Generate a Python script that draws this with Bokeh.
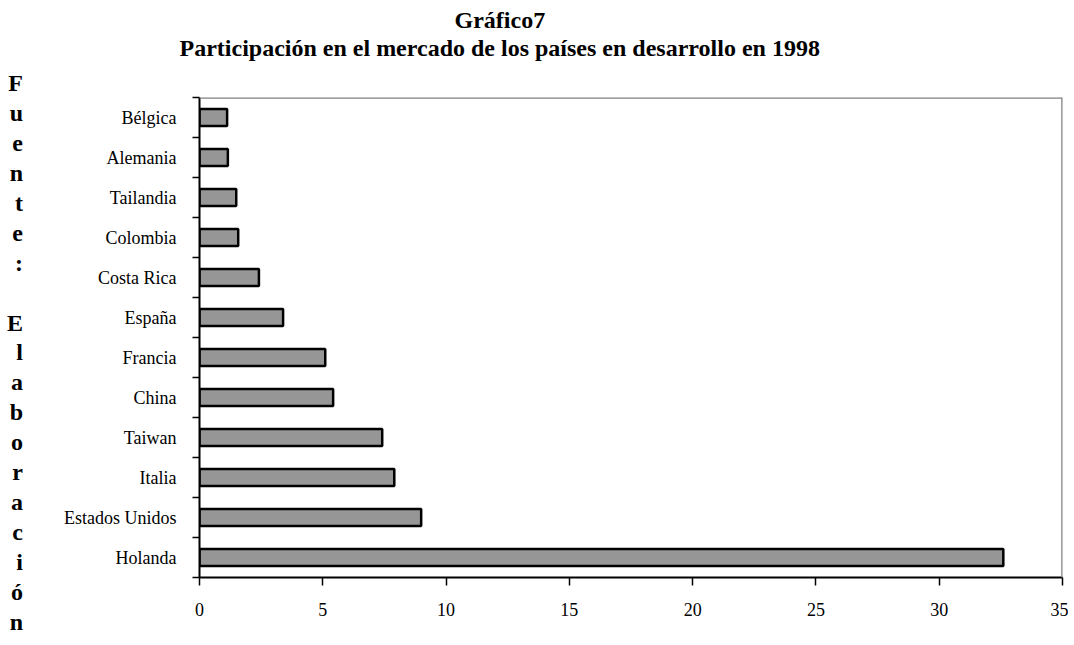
from bokeh.plotting import figure
from bokeh.models import Range1d, FixedTicker, Span, Title
from bokeh.embed import file_html
from bokeh.resources import INLINE

# ---- data (top to bottom as displayed) ----
categories = ["Bélgica", "Alemania", "Tailandia", "Colombia", "Costa Rica", "España",
              "Francia", "China", "Taiwan", "Italia", "Estados Unidos", "Holanda"]
values = [1.12, 1.15, 1.49, 1.57, 2.41, 3.39, 5.10, 5.42, 7.41, 7.90, 8.99, 32.6]
x_ticks = [0, 5, 10, 15, 20, 25, 30, 35]
title_1 = "Gráfico7"
title_2 = "Participación en el mercado de los países en desarrollo en 1998"
side_text = "Fuente: Elaboración"

SERIF = "Liberation Serif"
n = len(categories)
ypos = [n - 0.5 - i for i in range(n)]

p = figure(width=1068, height=637, x_range=Range1d(0, 35), y_range=Range1d(0, n),
           output_backend="svg", toolbar_location=None, title=None,
           min_border_left=199, min_border_right=6, min_border_top=97, min_border_bottom=60)
p.xgrid.visible = False
p.ygrid.visible = False
p.outline_line_color = None
p.background_fill_color = "white"
p.border_fill_color = "white"

p.hbar(y=ypos, left=0, right=values, height=0.42, fill_color="#969696",
       line_color="black", line_width=2.5)

# borders top/right (gray)
p.add_layout(Span(location=n, dimension="width", line_color="#808080", line_width=2.5))
p.add_layout(Span(location=35, dimension="height", line_color="#808080", line_width=2.5))

# x axis
xa = p.xaxis[0]
xa.ticker = FixedTicker(ticks=x_ticks, minor_ticks=[])
xa.axis_line_color = "black"
xa.axis_line_width = 2
xa.major_tick_out = 8
xa.major_tick_in = 0
xa.major_tick_line_color = "black"
xa.major_tick_line_width = 1.5
xa.minor_tick_out = 0
xa.minor_tick_in = 0
xa.major_label_text_font = SERIF
xa.major_label_text_font_size = "18px"
xa.major_label_text_color = "black"
xa.major_label_standoff = 17

# y axis: labels at centres, ticks at boundaries
ya = p.yaxis[0]
ya.ticker = FixedTicker(ticks=ypos, minor_ticks=list(range(0, n + 1)))
ya.major_label_overrides = {y: c for y, c in zip(ypos, categories)}
ya.axis_line_color = "black"
ya.axis_line_width = 2
ya.major_tick_out = 0
ya.major_tick_in = 0
ya.minor_tick_out = 7
ya.minor_tick_in = 0
ya.minor_tick_line_color = "black"
ya.minor_tick_line_width = 1.5
ya.major_label_text_font = SERIF
ya.major_label_text_font_size = "18px"
ya.major_label_text_color = "black"
ya.major_label_standoff = 16

# stacked source text as a horizontal multi-line axis label
ya.axis_label = "\n" + "\n".join(list(side_text))
ya.axis_label_orientation = "horizontal"
ya.axis_label_standoff = 38
ya.axis_label_text_font = SERIF
ya.axis_label_text_font_style = "bold"
ya.axis_label_text_font_size = "24px"
ya.axis_label_text_line_height = 1.152
ya.axis_label_text_color = "black"

# titles (added nearest-first): spacer, line 2, line 1
p.add_layout(Title(text=" ", text_font_size="10px", standoff=24), "above")
p.add_layout(Title(text=title_2, align="left", offset=-20, text_font=SERIF,
                   text_font_style="bold", text_font_size="24px", text_color="black",
                   standoff=0), "above")
p.add_layout(Title(text=title_1, align="left", offset=255, text_font=SERIF,
                   text_font_style="bold", text_font_size="24px", text_color="black",
                   standoff=0), "above")

open("out.html", "w").write(file_html(p, INLINE))
